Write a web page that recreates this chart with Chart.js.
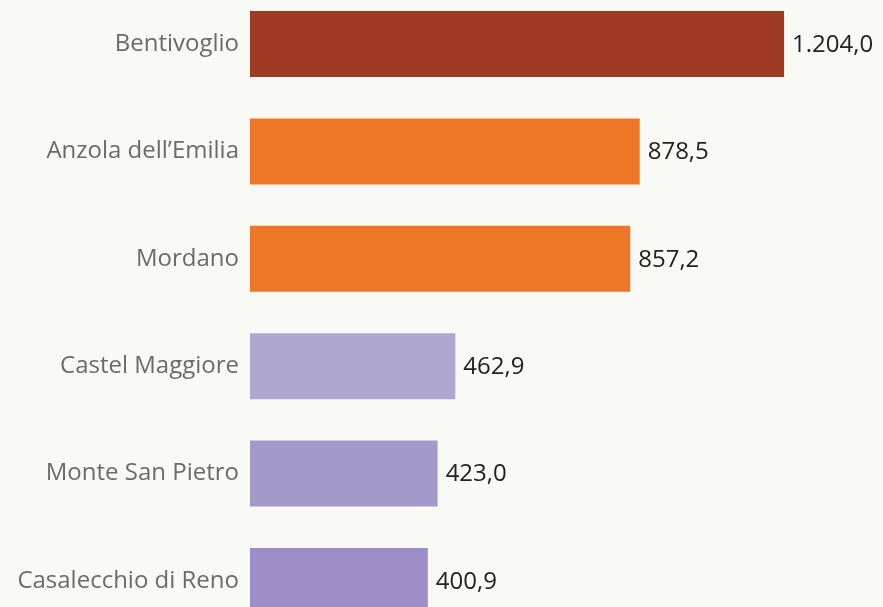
<!DOCTYPE html>
<html>
<head>
<meta charset="utf-8">
<script src="https://cdn.jsdelivr.net/npm/chart.js@4"></script>
<style>
html,body{margin:0;padding:0;background:#f9faf6;overflow:hidden;width:883px;height:607px;}
#c{position:absolute;left:0;top:-35.07px;}
</style>
</head>
<body>
<canvas id="c" width="883" height="695" style="width:883px;height:695px;"></canvas>
<script>
const categories = ["Bentivoglio", "Anzola dell\u2019Emilia", "Mordano", "Castel Maggiore", "Monte San Pietro", "Casalecchio di Reno"];
const values = [1204.0, 878.5, 857.2, 462.9, 423.0, 400.9];
const barColors = ["#9e3b22", "#ee7627", "#ee7627", "#b0a7d1", "#a599cc", "#9d8ec8"];

function fmt(v){
  const s = v.toFixed(1);
  let [i, d] = s.split(".");
  i = i.replace(/\B(?=(\d{3})+(?!\d))/g, ".");
  return i + "," + d;
}

const labelPlugin = {
  id: "valueLabels",
  afterDatasetsDraw(chart){
    const ctx = chart.ctx;
    const meta = chart.getDatasetMeta(0);
    ctx.save();
    ctx.font = "24px 'Open Sans'";
    ctx.fillStyle = "#222222";
    ctx.textAlign = "left";
    ctx.textBaseline = "middle";
    meta.data.forEach((bar, i) => {
      ctx.fillText(fmt(values[i]), bar.x + 8, bar.y + 1);
    });
    ctx.restore();
  }
};

new Chart(document.getElementById("c"), {
  type: "bar",
  data: {
    labels: categories,
    datasets: [{
      data: values,
      backgroundColor: barColors,
      borderWidth: 0,
      categoryPercentage: 1,
      barPercentage: 0.615
    }]
  },
  options: {
    indexAxis: "y",
    responsive: false,
    maintainAspectRatio: false,
    animation: false,
    devicePixelRatio: 1,
    layout: { padding: 0 },
    plugins: { legend: { display: false }, tooltip: { enabled: false } },
    scales: {
      x: { display: false, min: 0, max: 1427, grid: { display: false } },
      y: {
        grid: { display: false, tickLength: 0 },
        border: { display: false },
        ticks: { color: "#6b6b6b", font: { family: "'Open Sans'", size: 24 }, padding: 11 },
        afterFit(scale){ scale.width = 250; }
      }
    }
  },
  plugins: [labelPlugin]
});
</script>
</body>
</html>
